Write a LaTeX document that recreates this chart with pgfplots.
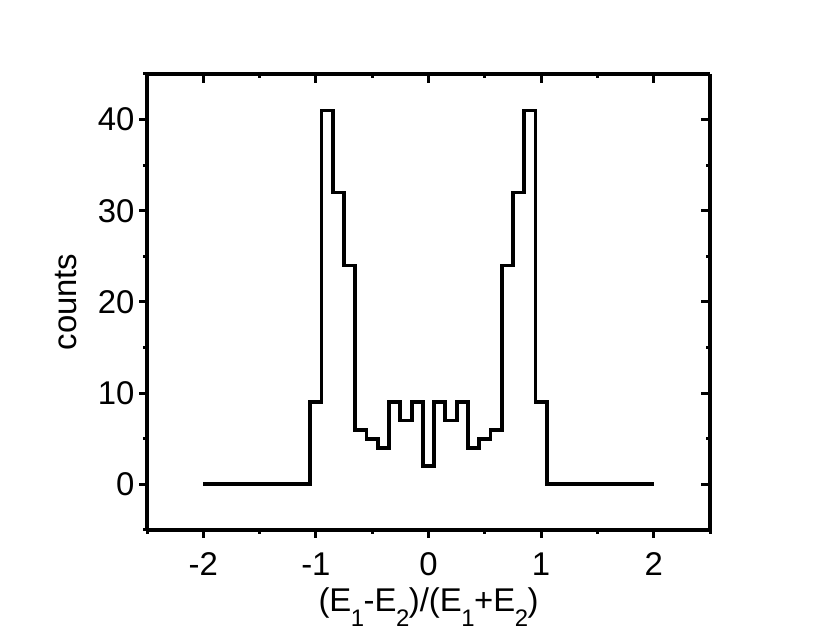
\documentclass[border=0pt]{standalone}
\usepackage{fontspec}
\setmainfont{Liberation Sans}
\usepackage{pgfplots}
\pgfplotsset{compat=1.18}
\newcommand\sub[1]{\kern-0.5bp\raisebox{-15bp}{\fontsize{24}{26}\selectfont #1}\kern-0.5bp}
\begin{document}
\begin{tikzpicture}[x=1bp,y=1bp]
\path[use as bounding box] (0,0) rectangle (825,638);
\pgfplotsset{
  common/.style={
    at={(147bp,108bp)}, anchor=south west,
    scale only axis, width=563bp, height=456bp,
    xmin=-2.5, xmax=2.5, ymin=-5, ymax=45,
    xtick={-2,-1,0,1,2}, minor xtick={-1.5,-0.5,0.5,1.5,-2.5,2.5},
    ytick={0,10,20,30,40}, minor ytick={-5,5,15,25,35,45},
    axis line style={line width=4bp},
    major tick length=8bp, minor tick length=4bp,
    every tick/.style={line width=3bp, black},
    /pgf/number format/assume math mode=true,
    ticklabel style={font=\fontsize{33}{36}\selectfont},
    label style={font=\fontsize{33}{36}\selectfont},
  }
}
\begin{axis}[common,
  axis x line*=bottom, axis y line*=left,
  tick align=outside,
  xticklabel style={yshift=-11bp},
  yticklabel style={xshift=-1bp},
  xlabel={(E\sub{1}-E\sub{2})/(E\sub{1}+E\sub{2})},
  ylabel={counts},
  xlabel style={yshift=-5bp},
  ylabel style={yshift=14bp},
]
\addplot[const plot mark left, black, line width=3.8bp, mark=none] coordinates {
(-2,0)(-1.05,9)(-0.95,41)(-0.85,32)(-0.75,24)(-0.65,6)(-0.55,5)(-0.45,4)
(-0.35,9)(-0.25,7)(-0.15,9)(-0.05,2)(0.05,9)(0.15,7)(0.25,9)(0.35,4)
(0.45,5)(0.55,6)(0.65,24)(0.75,32)(0.85,41)(0.95,9)(1.05,0)(2,0)};
\end{axis}
\begin{axis}[common,
  axis x line*=top, axis y line*=right,
  tick align=inside,
  xticklabels={}, yticklabels={},
  major tick length=9bp,
]
\end{axis}
\end{tikzpicture}
\end{document}
